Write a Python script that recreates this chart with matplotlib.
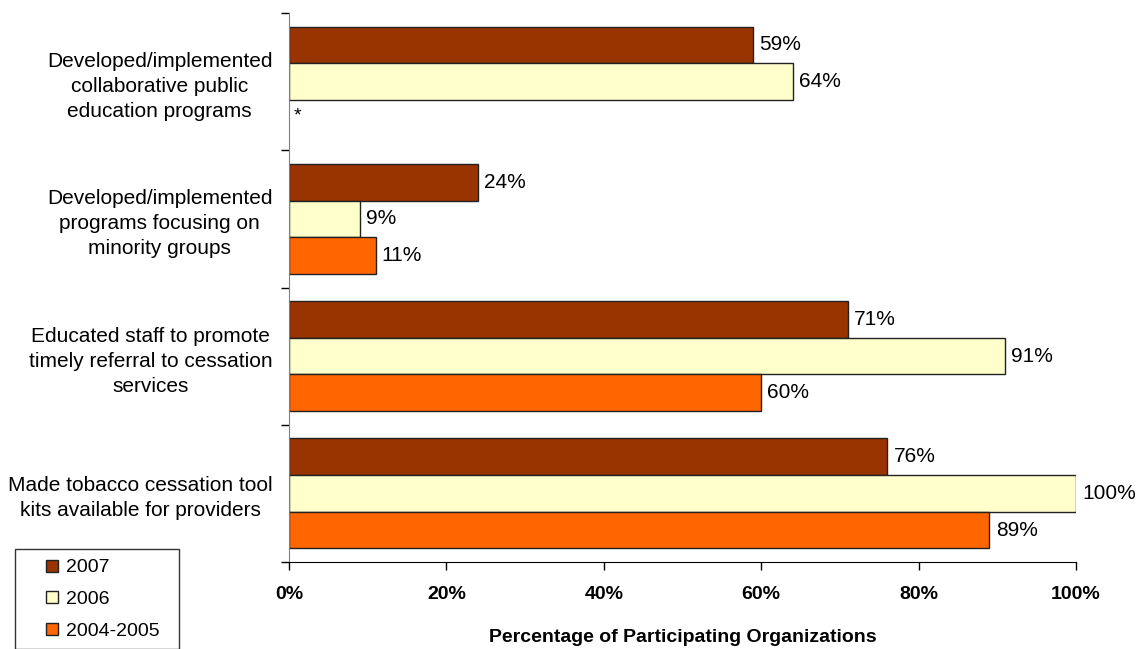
import numpy as np
import matplotlib
matplotlib.use("Agg")
import matplotlib.pyplot as plt
from matplotlib.patches import Patch, Rectangle
from matplotlib.legend_handler import HandlerPatch

plt.rcParams["font.family"] = ["Liberation Sans", "DejaVu Sans"]

# data
categories = [
    "Developed/implemented\ncollaborative public\neducation programs",
    "Developed/implemented\nprograms focusing on\nminority groups",
    "Educated staff to promote\ntimely referral to cessation\nservices",
    "Made tobacco cessation tool\nkits available for providers",
]
series_names = ["2007", "2006", "2004-2005"]
values_2007 = [59, 24, 71, 76]
values_2006 = [64, 9, 91, 100]
values_2004_2005 = [None, 11, 60, 89]
x_ticks = [0, 20, 40, 60, 80, 100]
x_label = "Percentage of Participating Organizations"

colors = ["#993300", "#FFFFCC", "#FF6600"]

W, H = 1138, 649
fig = plt.figure(figsize=(W / 100, H / 100), dpi=100)
ax = fig.add_axes([289 / W, 1 - 562 / H, (1076 - 289) / W, (562 - 13) / H])

y = np.arange(len(categories))
bar_h = 0.267
offsets = [-bar_h, 0, bar_h]
all_series = [values_2007, values_2006, values_2004_2005]

for vals, off, col in zip(all_series, offsets, colors):
    for yi, v in zip(y, vals):
        if v is None:
            # no data for this year
            ax.text(0.6, yi + off - 0.02, "*", fontsize=14, va="center", ha="left")
            continue
        ax.barh(yi + off, v, height=bar_h, color=col, edgecolor="#222222", linewidth=1.0)
        ax.text(v + 0.8, yi + off, f"{v}%", fontsize=15, va="center", ha="left")

ax.set_xlim(0, 100)
ax.set_ylim(len(categories) - 0.5, -0.5)

ax.set_yticks(y)
ax.set_yticklabels(categories, fontsize=15, multialignment="center", linespacing=1.4)
ax.set_yticks(np.arange(-0.5, len(categories), 1.0), minor=True)
ax.tick_params(axis="y", which="major", length=0, pad=12)
ax.tick_params(axis="y", which="minor", length=6, width=1, direction="out")

ax.set_xticks(x_ticks)
ax.set_xticklabels([f"{t}%" for t in x_ticks], fontsize=14, fontweight="bold")
ax.tick_params(axis="x", length=6, width=1, direction="out", pad=11)
ax.set_xlabel(x_label, fontsize=14, fontweight="bold", labelpad=19)

for side in ["top", "right"]:
    ax.spines[side].set_visible(False)
ax.spines["left"].set_color("#808080")
ax.spines["bottom"].set_color("black")


def _square(legend, orig_handle, xdescent, ydescent, width, height, fontsize):
    s = 8.6
    return Rectangle((width - s - xdescent, -ydescent + (height - s) / 2), s, s)


handles = [Patch(facecolor=c, edgecolor="#222222", linewidth=1.0) for c in colors]
leg = fig.legend(
    handles, series_names,
    loc="upper left",
    bbox_to_anchor=(15 / W, 1 - 549 / H, 164 / W, 0.0),
    mode="expand",
    borderaxespad=0,
    fontsize=14,
    frameon=True,
    fancybox=False,
    handlelength=1.7,
    handleheight=0.7,
    handletextpad=0.4,
    labelspacing=0.72,
    borderpad=0.5,
    handler_map={Patch: HandlerPatch(patch_func=_square)},
)
leg.get_frame().set_edgecolor("black")
leg.get_frame().set_linewidth(1.0)

fig.savefig("out.png", dpi=100)
